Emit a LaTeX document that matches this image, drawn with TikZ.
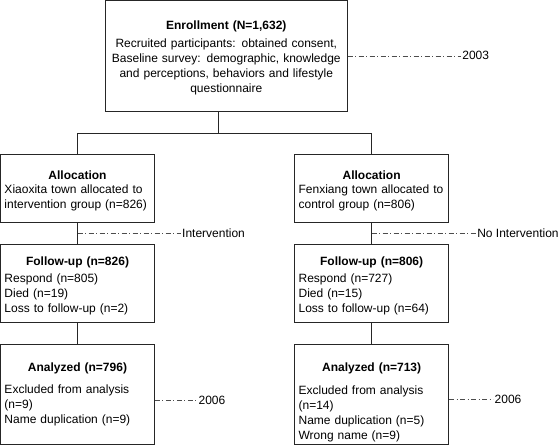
\documentclass[tikz,border=0pt]{standalone}
\usepackage{fontspec}
\setmainfont{Liberation Sans}
\usetikzlibrary{positioning, calc}

\begin{document}
\begin{tikzpicture}[
    x=1pt, y=-1pt,
    every node/.style={font=\fontsize{12}{14.8}\selectfont},
    box/.style={draw=black!85, line width=0.8pt, inner xsep=4pt, inner ysep=0pt, align=left, text width=146pt, minimum width=154pt},
    link/.style={draw=black!85, line width=0.8pt},
    dashdot/.style={black!70, line width=0.5pt, dash pattern=on 5pt off 2.5pt on 1pt off 2.5pt},
    note/.style={inner sep=1.5pt}
]
\useasboundingbox (0,0) rectangle (560,445);

% 方框
\node[box, align=center, text width=232pt, minimum width=242pt, minimum height=110.5pt] (enroll) at (226.3,55.8) {\rule{0pt}{13pt}\textbf{Enrollment (N=1,632)}\\[3pt] Recruited participants: obtained consent,\\ Baseline survey: demographic, knowledge\\ and perceptions, behaviors and lifestyle\\ questionnaire};

\node[box, minimum height=67.7pt] (alloc1) at (77.5,188.2) {\makebox[\hsize]{\rule{0pt}{14pt}\textbf{Allocation}}\\ Xiaoxita town allocated to\\ intervention group (n=826)};
\node[box, minimum height=67.7pt] (alloc2) at (371.6,188.2) {\makebox[\hsize]{\rule{0pt}{14pt}\textbf{Allocation}}\\ Fenxiang town allocated to\\ control group (n=806)};

\node[box, minimum height=78pt] (follow1) at (77.5,283.3) {\makebox[\hsize]{\rule{0pt}{14pt}\textbf{Follow-up (n=826)}}\\[2pt] Respond (n=805)\\ Died (n=19)\\ Loss to follow-up (n=2)};
\node[box, minimum height=78pt] (follow2) at (371.6,283.3) {\makebox[\hsize]{\rule{0pt}{14pt}\textbf{Follow-up (n=806)}}\\[2pt] Respond (n=727)\\ Died (n=15)\\ Loss to follow-up (n=64)};

\node[box, minimum height=99.7pt] (anal1) at (77.5,394.2) {\makebox[\hsize]{\textbf{Analyzed (n=796)}}\\[8pt] Excluded from analysis\\ (n=9)\\ Name duplication (n=9)};
\node[box, minimum height=99.7pt] (anal2) at (371.6,394.2) {\makebox[\hsize]{\rule{0pt}{25pt}\textbf{Analyzed (n=713)}}\\[8pt] Excluded from analysis\\ (n=14)\\ Name duplication (n=5)\\ Wrong name (n=9)};

% 连线
\coordinate (split) at (218.3,133.3);
\draw[link] (enroll.south -| split) -- (split);
\draw[link] (alloc1.north) |- (split) -| (alloc2.north);
\draw[link] (alloc1.south) -- (follow1.north);
\draw[link] (alloc2.south) -- (follow2.north);
\draw[link] (follow1.south) -- (anal1.north);
\draw[link] (follow2.south) -- (anal2.north);

% 注释
\coordinate (mid1) at ($(alloc1.south)!0.5!(follow1.north)$);
\coordinate (mid2) at ($(alloc2.south)!0.5!(follow2.north)$);
\coordinate (end1) at ($(anal1.east)+(0,6)$);
\coordinate (end2) at ($(anal2.east)+(0,5.5)$);

\node[note, right=113pt of enroll.east] (y2003) {2003};
\node[note, right=103pt of mid1] (interv) {Intervention};
\node[note, right=104pt of mid2] (nointerv) {No Intervention};
\node[note, right=42pt of end1] (y2006a) {2006};
\node[note, right=44pt of end2] (y2006b) {2006};

\draw[dashdot] (enroll.east) -- (y2003.west);
\draw[dashdot] (mid1) -- (interv.west);
\draw[dashdot] (mid2) -- (nointerv.west);
\draw[dashdot] (end1) -- (y2006a.west);
\draw[dashdot] (end2) -- (y2006b.west);

\end{tikzpicture}
\end{document}
